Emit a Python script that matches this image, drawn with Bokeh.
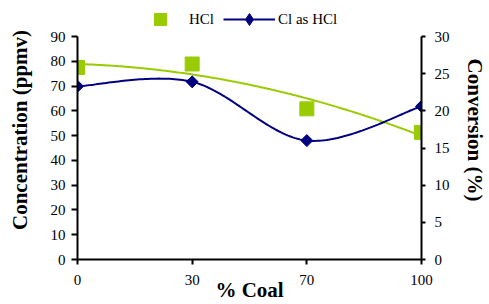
import numpy as np
from bokeh.plotting import figure
from bokeh.models import (Range1d, LinearAxis, FixedTicker, Legend, LegendItem,
                          ColumnDataSource)
from bokeh.embed import file_html
from bokeh.resources import INLINE

# ---- data ----
coal = ["0", "30", "70", "100"]            # % Coal (categories)
hcl = [77.5, 78.9, 60.8, 51.3]             # HCl concentration (ppmv), left axis
cl_conv = [23.3, 23.9, 16.0, 20.6]         # Cl as HCl conversion (%), right axis
left_ticks = [0, 10, 20, 30, 40, 50, 60, 70, 80, 90]
right_ticks = [0, 5, 10, 15, 20, 25, 30]

GREEN = "#99CC00"
NAVY = "#000080"
FONT = "Liberation Serif"

# layout (pixels): frame spans the full height above the x axis so the
# legend can sit inside it; the y axes are bounded to their tick range
W, H = 489, 304
B_LEFT, B_RIGHT, B_BOTTOM = 77, 62, 45
AXIS_TOP = 36                      # pixel row of the top tick (90 / 30)
frame_h = H - B_BOTTOM
stretch = frame_h / (frame_h - AXIS_TOP)

xi = np.arange(len(coal), dtype=float)

p = figure(width=W, height=H, output_backend="svg", toolbar_location=None,
           x_range=Range1d(0, len(coal) - 1),
           y_range=Range1d(left_ticks[0], left_ticks[-1] * stretch),
           min_border_left=B_LEFT, min_border_right=B_RIGHT,
           min_border_top=0, min_border_bottom=B_BOTTOM)
p.extra_y_ranges = {"r": Range1d(right_ticks[0], right_ticks[-1] * stretch)}
p.outline_line_color = None
p.grid.visible = False
p.background_fill_color = "white"
p.border_fill_color = "white"

# polynomial (order 2) trendline for HCl
coef = np.polyfit(xi, hcl, 2)
tx = np.linspace(xi[0], xi[-1], 200)
ty = np.polyval(coef, tx)
p.line(tx, ty, line_color=GREEN, line_width=2)

# smoothed line (Excel-style Bezier) through Cl as HCl
def smooth(x, y, n=50):
    P = np.column_stack([x, y]).astype(float)
    segs = []
    for i in range(len(P) - 1):
        p0, p3 = P[i], P[i + 1]
        prv = P[i - 1] if i > 0 else P[i]
        nxt = P[i + 2] if i + 2 < len(P) else P[i + 1]
        c1 = p0 + (p3 - prv) / 6.0
        c2 = p3 - (nxt - p0) / 6.0
        t = np.linspace(0, 1, n)[:, None]
        seg = (1 - t) ** 3 * p0 + 3 * (1 - t) ** 2 * t * c1 + 3 * (1 - t) * t ** 2 * c2 + t ** 3 * p3
        segs.append(seg if i == 0 else seg[1:])
    S = np.vstack(segs)
    return S[:, 0], S[:, 1]

sx, sy = smooth(xi, cl_conv)
navy_line = p.line(sx, sy, line_color=NAVY, line_width=2, y_range_name="r")

src_h = ColumnDataSource(dict(x=xi, y=hcl))
src_c = ColumnDataSource(dict(x=xi, y=cl_conv))
sq = p.scatter("x", "y", source=src_h, marker="square", size=14,
               fill_color=GREEN, line_color=GREEN)
dia = p.scatter("x", "y", source=src_c, marker="square", angle=np.pi / 4, size=8.5,
                fill_color=NAVY, line_color=NAVY, y_range_name="r")
# same points, zero size on the plot: supplies the diamond key of the legend
dia_key = p.scatter("x", "y", source=src_c, marker="diamond", size=0,
                    fill_color=NAVY, line_color=NAVY, y_range_name="r")

# axes
right = LinearAxis(y_range_name="r")
p.add_layout(right, "right")

for ax in [p.xaxis[0], p.yaxis[0], right]:
    ax.axis_line_width = 2
    ax.axis_line_color = "black"
    ax.major_tick_line_width = 2
    ax.major_tick_line_color = "black"
    ax.major_tick_in = 0
    ax.minor_tick_line_color = None
    ax.major_label_text_font = FONT
    ax.major_label_text_font_size = "15px"
    ax.major_label_text_color = "black"
    ax.axis_label_text_font = FONT
    ax.axis_label_text_font_size = "21px"
    ax.axis_label_text_font_style = "bold"
    ax.axis_label_text_color = "black"

p.xaxis[0].ticker = FixedTicker(ticks=list(xi))
p.xaxis[0].major_label_overrides = {float(i): c for i, c in enumerate(coal)}
p.xaxis[0].major_label_overrides.update({int(i): c for i, c in enumerate(coal)})
p.xaxis[0].major_tick_out = 5
p.xaxis[0].major_label_standoff = 10
p.xaxis[0].axis_label = "% Coal"
p.xaxis[0].axis_label_standoff = -10

p.yaxis[0].ticker = FixedTicker(ticks=left_ticks)
p.yaxis[0].bounds = (left_ticks[0], left_ticks[-1])
p.yaxis[0].major_tick_out = 6
p.yaxis[0].major_label_standoff = 6
p.yaxis[0].axis_label = "Concentration (ppmv)"
p.yaxis[0].axis_label_standoff = 16

right.ticker = FixedTicker(ticks=right_ticks)
right.bounds = (right_ticks[0], right_ticks[-1])
right.major_tick_out = 4
right.major_label_standoff = 9
right.axis_label = "Conversion (%)"
right.axis_label_standoff = 10

# legend (inside the frame, above the top ticks)
legend = Legend(items=[LegendItem(label="HCl", renderers=[sq]),
                       LegendItem(label="Cl as HCl", renderers=[navy_line, dia_key])],
                location=(57, frame_h - 34), orientation="horizontal",
                glyph_width=52, glyph_height=30, label_standoff=3, spacing=9,
                padding=0, margin=0, border_line_color=None,
                background_fill_alpha=0,
                label_text_font=FONT, label_text_font_size="15px",
                label_text_color="black")
p.add_layout(legend, "center")

open("out.html", "w").write(file_html(p, INLINE))
